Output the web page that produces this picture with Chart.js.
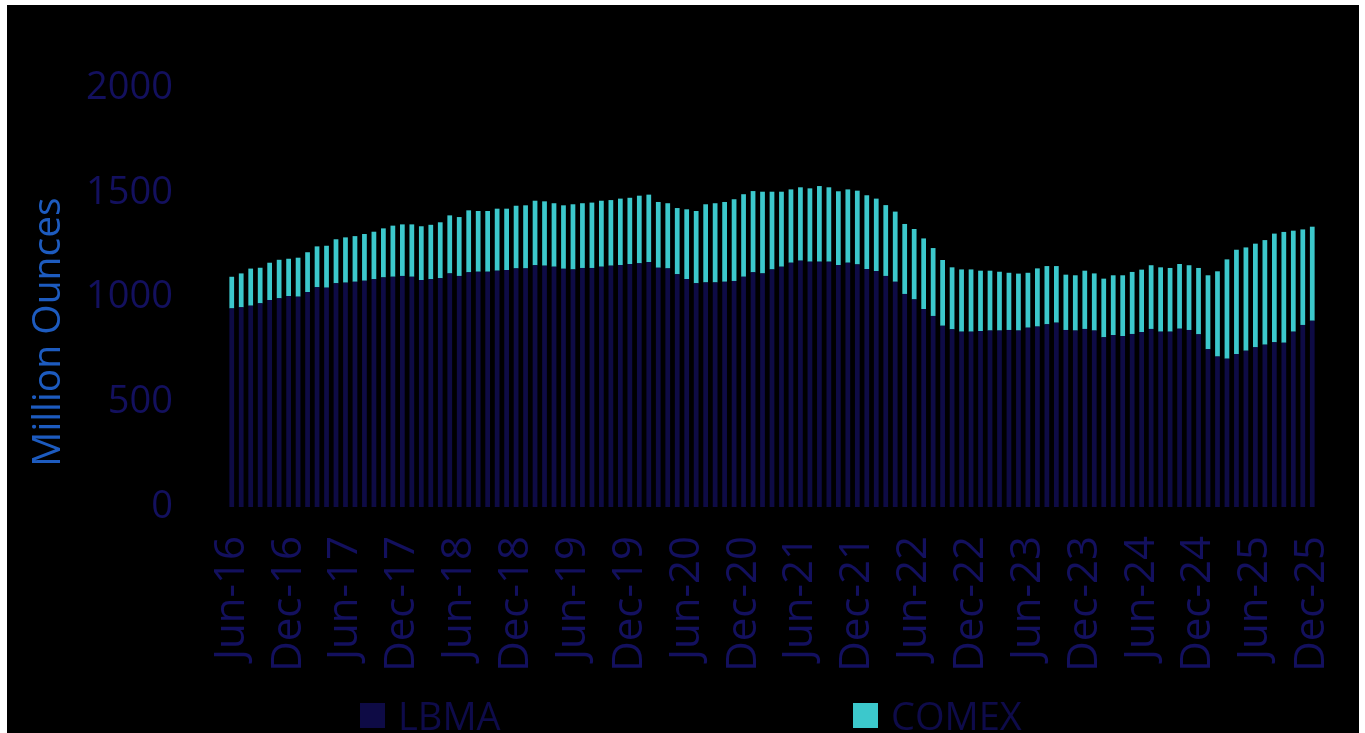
<!DOCTYPE html>
<html><head><meta charset="utf-8">
<script src="https://cdn.jsdelivr.net/npm/chart.js@4.4.1/dist/chart.umd.min.js"></script>
<style>
html,body{margin:0;padding:0;background:#fff;width:1365px;height:733px;overflow:hidden;}
#wrap{position:absolute;left:7px;top:5px;width:1352px;height:728px;background:#000;}
canvas{display:block;}
</style></head><body>
<div id="wrap"><canvas id="c" width="1352" height="728" style="width:1352px;height:728px"></canvas></div>
<script>
// ---- data ----
const monthNames = ['Jan','Feb','Mar','Apr','May','Jun','Jul','Aug','Sep','Oct','Nov','Dec'];
const categories = [];
for (let y = 2016, m = 5; categories.length < 115; m++) {
  if (m === 12) { m = 0; y++; }
  categories.push(monthNames[m] + '-' + String(y).slice(2));
}
const lbma = [
  948,953,961,972,988,996,1007,1004,1026,1049,1047,1068,1071,1075,1080,1087,1096,1099,1103,1099,1083,1087,1092,1115,1103,1120,1123,1123,1128,
  1131,1139,1139,1154,1152,1147,1137,1134,1141,1141,1147,1152,1155,1160,1163,1169,1142,1139,1111,1088,1068,1072,1072,1075,1079,1099,1120,1115,
  1134,1147,1166,1176,1171,1171,1171,1155,1166,1158,1136,1126,1103,1075,1017,991,945,912,865,848,837,837,840,842,842,845,842,856,861,
  872,880,845,842,850,842,810,821,816,826,835,850,837,837,851,845,824,753,718,708,730,746,762,775,786,784,837,869,889
];
const comex = [
  151,162,177,170,178,184,178,186,190,195,200,210,216,218,223,227,234,244,246,250,257,260,267,277,281,296,290,290,296,
  293,299,301,308,307,303,303,311,309,312,315,313,317,316,323,322,314,311,316,333,345,373,378,381,390,394,388,390,
  371,358,350,350,350,361,355,352,350,352,352,346,338,335,334,336,337,324,314,296,297,297,288,286,281,273,272,262,278,
  278,270,264,264,278,273,280,285,290,296,298,304,307,304,309,309,317,353,407,474,498,493,495,499,519,529,482,456,449
];
const yTicks = [0, 500, 1000, 1500, 2000];
const seriesNames = ['LBMA', 'COMEX'];
const yTitle = 'Million Ounces';

// ---- style ----
const colLBMA = '#0e0b45';
const colCOMEX = '#3cc8cc';
const tickColor = '#13105e';
const titleColor = '#1d5bbf';
const legendTextColor = '#0e0b4a';
const FONT = '"Open Sans", "DejaVu Sans", sans-serif';

const overlay = {
  id: 'overlay',
  afterDraw(chart) {
    const ctx = chart.ctx;
    ctx.save();
    ctx.fillStyle = titleColor;
    ctx.font = '39px ' + FONT;
    ctx.translate(53, 327);
    ctx.rotate(-Math.PI / 2);
    ctx.textAlign = 'center';
    ctx.textBaseline = 'alphabetic';
    ctx.fillText(yTitle, 0, 0);
    ctx.restore();

    const legendX = [353, 846];
    ctx.save();
    chart.data.datasets.forEach((ds, i) => {
      const x = legendX[i];
      ctx.fillStyle = ds.backgroundColor;
      ctx.fillRect(x, 698, 25, 25);
      ctx.fillStyle = legendTextColor;
      ctx.font = '38px ' + FONT;
      ctx.textAlign = 'left';
      ctx.textBaseline = 'alphabetic';
      ctx.fillText(ds.label, x + 38, 725);
    });
    ctx.restore();
  }
};

new Chart(document.getElementById('c'), {
  type: 'bar',
  data: {
    labels: categories,
    datasets: [
      { label: seriesNames[0], data: lbma, backgroundColor: colLBMA, barPercentage: 0.5, categoryPercentage: 1.0 },
      { label: seriesNames[1], data: comex, backgroundColor: colCOMEX, barPercentage: 0.5, categoryPercentage: 1.0 }
    ]
  },
  options: {
    responsive: false,
    animation: false,
    layout: { padding: { left: 0, right: 42, top: 83, bottom: 0 } },
    plugins: { legend: { display: false }, tooltip: { enabled: false } },
    scales: {
      x: {
        stacked: true,
        grid: { display: false, drawTicks: false },
        border: { display: false },
        ticks: {
          autoSkip: false,
          minRotation: 90,
          maxRotation: 90,
          padding: 29,
          color: tickColor,
          font: { family: FONT, size: 42 },
          callback: (v, i) => (i % 6 === 0 ? categories[i] : '')
        },
        afterFit: (s) => { s.height = 226; s.paddingLeft = 0; s.paddingRight = 0; }
      },
      y: {
        stacked: true,
        min: 0,
        max: 2000,
        grid: { display: false, drawTicks: false },
        border: { display: false },
        afterBuildTicks: (s) => { s.ticks = yTicks.map(v => ({ value: v })); },
        ticks: {
          padding: 54,
          color: tickColor,
          font: { family: FONT, size: 38 },
          callback: (v) => String(v)
        },
        afterFit: (s) => { s.width = 220; s.paddingTop = 0; s.paddingBottom = 0; }
      }
    }
  },
  plugins: [overlay]
});
</script>
</body></html>
